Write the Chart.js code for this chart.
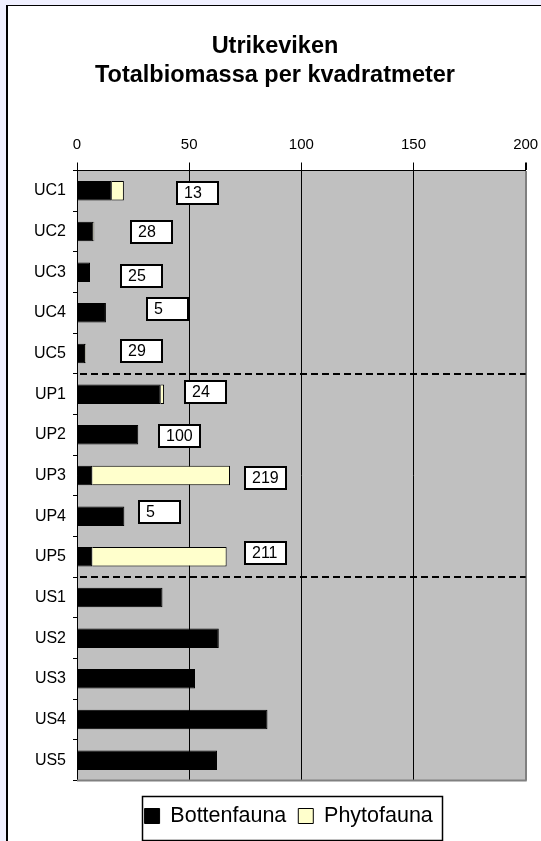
<!DOCTYPE html>
<html>
<head>
<meta charset="utf-8">
<script src="https://cdn.jsdelivr.net/npm/chart.js@4.4.1/dist/chart.umd.min.js"></script>
<style>
  html, body { margin: 0; padding: 0; width: 541px; height: 841px; overflow: hidden; background: #F0F0FF; }
  #frame { position: absolute; left: 6px; top: 5px; width: 600px; height: 900px; background: #fff;
           border-left: 2px solid #000; border-top: 1px solid #000; }
  #c { position: absolute; left: 0; top: 0; }
</style>
</head>
<body>
<div id="frame"></div>
<canvas id="c" width="541" height="841"></canvas>
<script>
// Stations, grouped UC / UP / US
const stations = ['UC1', 'UC2', 'UC3', 'UC4', 'UC5',
                  'UP1', 'UP2', 'UP3', 'UP4', 'UP5',
                  'US1', 'US2', 'US3', 'US4', 'US5'];

// Biomass per square metre
const bottenfauna = [15.5, 7.3, 5.8, 12.9, 3.6,
                     37.3, 27.3, 6.8, 21.1, 6.8,
                     38.1, 63.2, 52.6, 84.9, 62.4];
const phytofauna  = [5.4, 0.4, 0, 0, 0.3,
                     1.5, 0, 61.4, 0, 59.9,
                     0, 0, 0, 0, 0];

// Numbers shown in the boxes beside the UC and UP stations
const antal = [13, 28, 25, 5, 29, 24, 100, 219, 5, 211,
               null, null, null, null, null];

const xTicks = [0, 50, 100, 150, 200];

// Where each number box sits: centre along the value axis, and a small vertical nudge in px
const labelAt    = [53.8, 33.3, 28.8, 40.3, 28.8, 57.4, 45.8, 84.2, 36.8, 84.2];
const labelShift = [2, 0, 4, -4, -3, -2.5, 1, 2.5, -4, -3.5];

// Dashed separators between the station groups (category index units)
const groupBreaks = [4.5, 9.5];

const FONT = "'Liberation Sans', Arial, sans-serif";

const plotFrame = {
  id: 'plotFrame',
  beforeDraw(chart) {
    const { ctx, chartArea: a } = chart;
    ctx.save();
    ctx.fillStyle = '#C0C0C0';
    ctx.fillRect(a.left, a.top, a.right - a.left, a.bottom - a.top);
    ctx.restore();
  },
  afterDatasetsDraw(chart) {
    const { ctx, chartArea: a, scales: { y } } = chart;
    ctx.save();
    ctx.strokeStyle = '#808080';
    ctx.lineWidth = 2;
    ctx.beginPath();
    ctx.moveTo(a.left, a.bottom);
    ctx.lineTo(a.right + 1, a.bottom);
    ctx.stroke();

    ctx.strokeStyle = '#000';
    ctx.lineWidth = 2;
    ctx.setLineDash([7, 4]);
    for (const b of groupBreaks) {
      const py = Math.round(y.getPixelForValue(b));
      ctx.beginPath();
      ctx.moveTo(a.left + 3, py);
      ctx.lineTo(a.right, py);
      ctx.stroke();
    }
    ctx.restore();
  }
};

const countBoxes = {
  id: 'countBoxes',
  afterDatasetsDraw(chart) {
    const { ctx, scales: { x, y } } = chart;
    ctx.save();
    ctx.font = '16px ' + FONT;
    ctx.textBaseline = 'middle';
    ctx.textAlign = 'left';
    antal.forEach((n, i) => {
      if (n === null) return;
      const cx = x.getPixelForValue(labelAt[i]);
      const cy = y.getPixelForValue(i) + labelShift[i];
      const w = 41, h = 22;
      const l = Math.round(cx - w / 2), t = Math.round(cy - h / 2);
      ctx.fillStyle = '#fff';
      ctx.fillRect(l, t, w, h);
      ctx.strokeStyle = '#000';
      ctx.lineWidth = 2;
      ctx.strokeRect(l, t, w, h);
      ctx.fillStyle = '#000';
      ctx.fillText(String(n), l + 7, t + h / 2 + 1);
    });
    ctx.restore();
  }
};

// Moves the legend a little right/down and draws its frame
const legendFrame = {
  id: 'legendFrame',
  afterLayout(chart) {
    const lg = chart.legend;
    lg.left += 13.7; lg.right += 13.7;
    lg.top += 12.75; lg.bottom += 12.75;
  },
  afterDraw(chart) {
    const lg = chart.legend;
    const lo = lg.options.labels;
    const cx = (lg.left + lg.right) / 2;
    const cy = lg.top + lo.padding + lo.font.size / 2;
    const { ctx } = chart;
    ctx.save();
    ctx.strokeStyle = '#000';
    ctx.lineWidth = 1.5;
    ctx.strokeRect(Math.round(cx - 147) + 0.5, Math.round(cy - 20) + 0.5, 300, 44);
    ctx.restore();
  }
};

new Chart(document.getElementById('c'), {
  type: 'bar',
  data: {
    labels: stations,
    datasets: [
      {
        label: 'Bottenfauna',
        data: bottenfauna,
        backgroundColor: '#000000',
        borderColor: '#000000',
        borderWidth: 1
      },
      {
        label: 'Phytofauna',
        data: phytofauna,
        backgroundColor: '#FFFFCC',
        borderColor: '#000000',
        borderWidth: 1
      }
    ]
  },
  options: {
    indexAxis: 'y',
    responsive: false,
    animation: false,
    devicePixelRatio: 1,
    layout: { padding: { left: 24.3, right: 15.3, top: 0, bottom: 17 } },
    datasets: { bar: { categoryPercentage: 1, barPercentage: 0.48 } },
    plugins: {
      title: {
        display: true,
        text: ['Utrikeviken', 'Totalbiomassa per kvadratmeter'],
        color: '#000',
        font: { family: FONT, size: 23.5, weight: 'bold', lineHeight: 1.247 },
        padding: { top: 31.75, bottom: 45.65 }
      },
      legend: {
        display: true,
        position: 'bottom',
        labels: {
          color: '#000',
          font: { family: FONT, size: 21.5 },
          boxWidth: 15,
          boxHeight: 15,
          padding: 12
        }
      },
      tooltip: { enabled: false }
    },
    scales: {
      x: {
        position: 'top',
        stacked: true,
        min: 0,
        max: 200,
        afterBuildTicks(scale) { scale.ticks = xTicks.map(v => ({ value: v })); },
        afterFit(scale) {
          scale.height = 34.5;
          scale.paddingLeft = 0;
          scale.paddingRight = 0;
        },
        ticks: {
          color: '#000',
          font: { family: FONT, size: 15 },
          padding: 8.5,
          maxRotation: 0
        },
        grid: {
          color: c => (c.tick && c.tick.value === 200) ? '#808080' : '#000',
          lineWidth: c => (c.tick && c.tick.value === 200) ? 2 : 1,
          tickColor: '#000',
          tickLength: 8
        },
        border: { display: true, color: '#000', width: 1 }
      },
      y: {
        stacked: true,
        afterFit(scale) { scale.width = 52.7; },
        ticks: {
          color: '#000',
          font: { family: FONT, size: 16 },
          padding: 7
        },
        grid: {
          drawOnChartArea: false,
          drawTicks: true,
          tickLength: 4,
          color: '#000'
        },
        border: { display: true, color: '#000', width: 1 }
      }
    }
  },
  plugins: [plotFrame, countBoxes, legendFrame]
});
</script>
</body>
</html>
